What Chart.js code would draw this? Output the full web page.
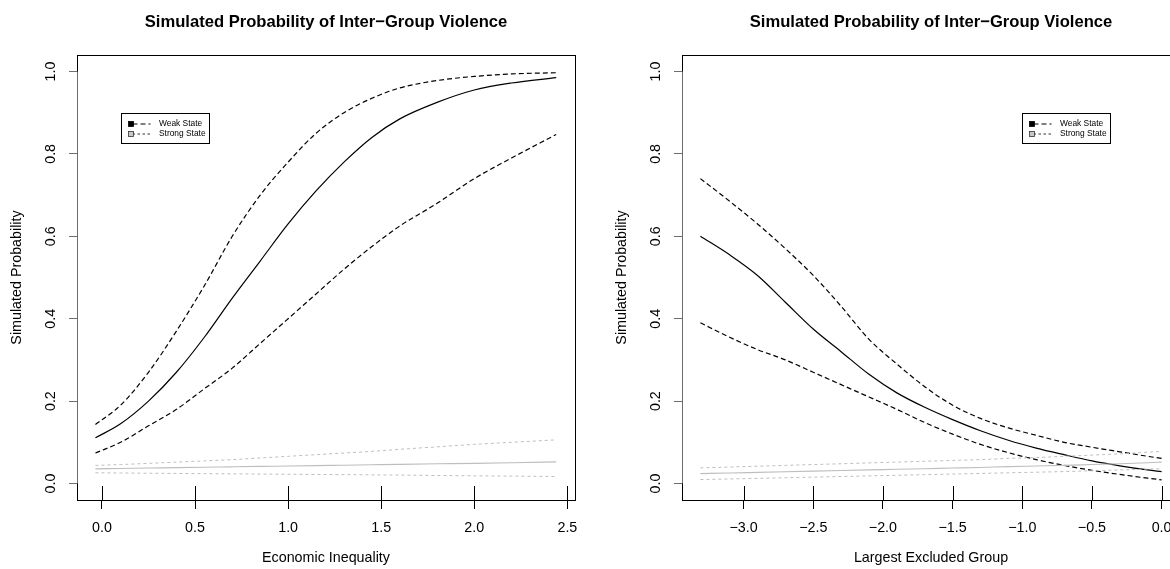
<!DOCTYPE html>
<html>
<head>
<meta charset="utf-8">
<script src="https://cdn.jsdelivr.net/npm/chart.js@4.4.1/dist/chart.umd.min.js"></script>
<style>
  html, body { margin: 0; padding: 0; background: #fff; overflow: hidden; width: 1170px; height: 569px; }
  .panel { position: absolute; top: 0; width: 605px; height: 569px; }
  #left { left: 0; }
  #right { left: 605px; }
</style>
</head>
<body>
<div class="panel" id="left"><canvas id="econChart" width="605" height="569"></canvas></div>
<div class="panel" id="right"><canvas id="groupChart" width="605" height="569"></canvas></div>
<script>
// ---- Panel 1: economic inequality ----
const econX       = [-0.035, 0.1, 0.25, 0.4, 0.55, 0.7, 0.85, 1.0, 1.15, 1.3, 1.45, 1.6, 1.8, 2.0, 2.2, 2.44];
const econWeak    = [0.111, 0.145, 0.2, 0.27, 0.355, 0.45, 0.54, 0.63, 0.71, 0.78, 0.84, 0.885, 0.925, 0.955, 0.972, 0.985];
const econWeakHi  = [0.143, 0.19, 0.27, 0.37, 0.48, 0.6, 0.7, 0.78, 0.85, 0.9, 0.935, 0.96, 0.978, 0.988, 0.994, 0.997];
const econWeakLo  = [0.074, 0.1, 0.14, 0.18, 0.23, 0.28, 0.34, 0.4, 0.46, 0.52, 0.575, 0.625, 0.68, 0.74, 0.79, 0.847];
const econStrong   = [0.0356, 0.0365, 0.0375, 0.0385, 0.0395, 0.0405, 0.0415, 0.0425, 0.0435, 0.0445, 0.0455, 0.0465, 0.0478, 0.049, 0.0505, 0.0525];
const econStrongHi = [0.044, 0.046, 0.049, 0.052, 0.055, 0.058, 0.062, 0.066, 0.07, 0.074, 0.078, 0.083, 0.089, 0.095, 0.1, 0.106];
const econStrongLo = [0.026, 0.0255, 0.025, 0.0245, 0.024, 0.0235, 0.023, 0.0225, 0.022, 0.0215, 0.021, 0.0205, 0.0195, 0.0187, 0.018, 0.017];
const econTicks      = [0, 0.5, 1.0, 1.5, 2.0, 2.5];
const econTickLabels = ['0.0', '0.5', '1.0', '1.5', '2.0', '2.5'];

// ---- Panel 2: largest excluded group ----
const groupX       = [-3.31, -3.1, -2.9, -2.7, -2.5, -2.3, -2.1, -1.9, -1.7, -1.5, -1.3, -1.1, -0.9, -0.7, -0.5, -0.3, -0.1, 0.0];
const groupWeak    = [0.6, 0.555, 0.505, 0.44, 0.375, 0.32, 0.265, 0.22, 0.185, 0.155, 0.128, 0.105, 0.086, 0.07, 0.055, 0.043, 0.033, 0.029];
const groupWeakHi  = [0.74, 0.685, 0.63, 0.57, 0.505, 0.43, 0.35, 0.29, 0.235, 0.19, 0.158, 0.135, 0.117, 0.1, 0.088, 0.077, 0.066, 0.061];
const groupWeakLo  = [0.39, 0.355, 0.325, 0.3, 0.27, 0.24, 0.21, 0.18, 0.148, 0.12, 0.095, 0.075, 0.058, 0.044, 0.032, 0.022, 0.013, 0.009];
const groupStrong   = [0.024, 0.0255, 0.027, 0.0285, 0.03, 0.0315, 0.033, 0.0345, 0.036, 0.0375, 0.039, 0.041, 0.0425, 0.044, 0.046, 0.048, 0.0505, 0.052];
const groupStrongHi = [0.038, 0.04, 0.042, 0.044, 0.046, 0.048, 0.05, 0.052, 0.054, 0.056, 0.058, 0.061, 0.063, 0.066, 0.069, 0.072, 0.076, 0.078];
const groupStrongLo = [0.0097, 0.011, 0.0125, 0.014, 0.0155, 0.017, 0.0185, 0.02, 0.0215, 0.023, 0.0245, 0.026, 0.0275, 0.029, 0.031, 0.033, 0.035, 0.036];
const groupTicks      = [-3.0, -2.5, -2.0, -1.5, -1.0, -0.5, 0.0];
const groupTickLabels = ['\u22123.0', '\u22122.5', '\u22122.0', '\u22121.5', '\u22121.0', '\u22120.5', '0.0'];

// ---- shared ----
const probTicks      = [0, 0.2, 0.4, 0.6, 0.8, 1.0];
const probTickLabels = ['0.0', '0.2', '0.4', '0.6', '0.8', '1.0'];
const legendLabels   = ['Weak State', 'Strong State'];
const mainTitle      = 'Simulated Probability of Inter\u2212Group Violence';
const yTitle         = 'Simulated Probability';

const FONT = "'Liberation Sans', Arial, Helvetica, sans-serif";
const BLACK = '#000000';
const GREY = '#bebebe';
Chart.defaults.font.family = FONT;
Chart.defaults.color = '#000';

const pts = (xs, ys) => xs.map((x, i) => ({ x: x, y: ys[i] }));

function lineSet(label, xs, ys, color, dash, width) {
  return {
    label: label,
    data: pts(xs, ys),
    borderColor: color,
    backgroundColor: color,
    borderWidth: width,
    borderDash: dash,
    pointRadius: 0,
    pointHoverRadius: 0,
    fill: false,
    cubicInterpolationMode: 'monotone'
  };
}

// Box frame, inner half of the x ticks, grey y axis line and the inset legend
const framePlugin = {
  id: 'frame',
  afterDraw(chart, args, opts) {
    const { ctx, chartArea: a, scales } = chart;
    const xs = scales.x, ys = scales.y;
    ctx.save();
    // x ticks reach up into the plotting region
    ctx.strokeStyle = BLACK;
    ctx.lineWidth = 1;
    ctx.setLineDash([]);
    xs.ticks.forEach(t => {
      const px = Math.round(xs.getPixelForValue(t.value)) + 0.5;
      ctx.beginPath();
      ctx.moveTo(px, a.bottom - 14);
      ctx.lineTo(px, a.bottom);
      ctx.stroke();
    });
    // frame
    ctx.strokeStyle = BLACK;
    ctx.strokeRect(Math.round(a.left) + 0.5, Math.round(a.top) + 0.5,
                   Math.round(a.right - a.left), Math.round(a.bottom - a.top));
    // y axis line over the frame
    ctx.strokeStyle = '#6e6e6e';
    ctx.beginPath();
    ctx.moveTo(Math.round(a.left) + 0.5, ys.getPixelForValue(probTicks[0]));
    ctx.lineTo(Math.round(a.left) + 0.5, ys.getPixelForValue(probTicks[probTicks.length - 1]));
    ctx.stroke();

    // legend
    const lx = Math.round(xs.getPixelForValue(opts.x)) + 0.5;
    const ly = Math.round(ys.getPixelForValue(opts.y)) + 0.5;
    const w = 88, h = 30;
    ctx.fillStyle = '#fff';
    ctx.fillRect(lx, ly, w, h);
    ctx.strokeStyle = BLACK;
    ctx.strokeRect(lx, ly, w, h);
    ctx.font = '8.4px ' + FONT;
    ctx.textBaseline = 'middle';
    ctx.textAlign = 'left';
    const rows = [
      { fill: BLACK, edge: BLACK, dash: [5, 3], line: '#000' },
      { fill: '#c8c8c8', edge: '#333', dash: [2.5, 2.5], line: '#333' }
    ];
    rows.forEach((r, i) => {
      const cy = ly + 10.5 + i * 10;
      ctx.setLineDash(r.dash);
      ctx.strokeStyle = r.line;
      ctx.beginPath();
      ctx.moveTo(lx + 11, cy);
      ctx.lineTo(lx + 29, cy);
      ctx.stroke();
      ctx.setLineDash([]);
      ctx.fillStyle = r.fill;
      ctx.fillRect(lx + 7, cy - 2.5, 5, 5);
      ctx.strokeStyle = r.edge;
      ctx.lineWidth = 0.8;
      ctx.strokeRect(lx + 7, cy - 2.5, 5, 5);
      ctx.lineWidth = 1;
      ctx.fillStyle = '#000';
      ctx.fillText(legendLabels[i], lx + 37.5, cy);
    });
    ctx.restore();
  }
};

function makePanel(canvasId, cfg) {
  return new Chart(document.getElementById(canvasId), {
    type: 'line',
    data: {
      datasets: [
        lineSet('Strong State', cfg.x, cfg.strongHi, GREY, [3, 3], 1),
        lineSet('Strong State', cfg.x, cfg.strongLo, GREY, [3, 3], 1),
        lineSet('Strong State', cfg.x, cfg.strong, GREY, [], 1.1),
        lineSet('Weak State', cfg.x, cfg.weakHi, BLACK, [5, 3], 1.2),
        lineSet('Weak State', cfg.x, cfg.weakLo, BLACK, [5, 3], 1.2),
        lineSet('Weak State', cfg.x, cfg.weak, BLACK, [], 1.2)
      ]
    },
    options: {
      responsive: false,
      animation: false,
      devicePixelRatio: 1,
      events: [],
      layout: { padding: { left: 0, right: 30, top: 0, bottom: 0 } },
      plugins: {
        legend: { display: false },
        tooltip: { enabled: false },
        title: {
          display: true,
          fullSize: false,
          text: mainTitle,
          color: '#000',
          font: { family: FONT, size: 16.6, weight: 'bold' },
          padding: { top: 12, bottom: 23.08 }
        },
        frame: cfg.legendAt
      },
      scales: {
        x: {
          type: 'linear',
          min: cfg.xMin,
          max: cfg.xMax,
          afterBuildTicks: s => { s.ticks = cfg.ticks.map(v => ({ value: v })); },
          afterFit: s => { s.height = 69; },
          ticks: {
            autoSkip: false,
            maxRotation: 0,
            minRotation: 0,
            padding: 10,
            color: '#000',
            font: { size: 14.3 },
            callback: (v, i) => cfg.tickLabels[i]
          },
          grid: { drawOnChartArea: false, drawTicks: true, tickLength: 9, color: BLACK, lineWidth: 1 },
          border: { display: false },
          title: {
            display: true,
            text: cfg.xTitle,
            color: '#000',
            font: { size: 14.3 },
            padding: { top: 0, bottom: 2 }
          }
        },
        y: {
          type: 'linear',
          min: -0.04,
          max: 1.04,
          afterBuildTicks: s => { s.ticks = probTicks.map(v => ({ value: v })); },
          afterFit: s => { s.width = 77; },
          ticks: {
            autoSkip: false,
            minRotation: 90,
            maxRotation: 90,
            crossAlign: 'center',
            padding: 8,
            color: '#000',
            font: { size: 14.3 },
            callback: (v, i) => probTickLabels[i]
          },
          grid: { drawOnChartArea: false, drawTicks: true, tickLength: 8, color: '#6e6e6e', lineWidth: 1 },
          border: { display: false },
          title: {
            display: true,
            text: yTitle,
            color: '#000',
            font: { size: 14.3 },
            padding: { top: 8.4, bottom: 0 }
          }
        }
      }
    },
    plugins: [framePlugin]
  });
}

makePanel('econChart', {
  x: econX, weak: econWeak, weakHi: econWeakHi, weakLo: econWeakLo,
  strong: econStrong, strongHi: econStrongHi, strongLo: econStrongLo,
  xMin: -0.134, xMax: 2.541, ticks: econTicks, tickLabels: econTickLabels,
  xTitle: 'Economic Inequality', legendAt: { x: 0.1, y: 0.9 }
});

makePanel('groupChart', {
  x: groupX, weak: groupWeak, weakHi: groupWeakHi, weakLo: groupWeakLo,
  strong: groupStrong, strongHi: groupStrongHi, strongLo: groupStrongLo,
  xMin: -3.442, xMax: 0.132, ticks: groupTicks, tickLabels: groupTickLabels,
  xTitle: 'Largest Excluded Group', legendAt: { x: -1.0, y: 0.9 }
});
</script>
</body>
</html>
